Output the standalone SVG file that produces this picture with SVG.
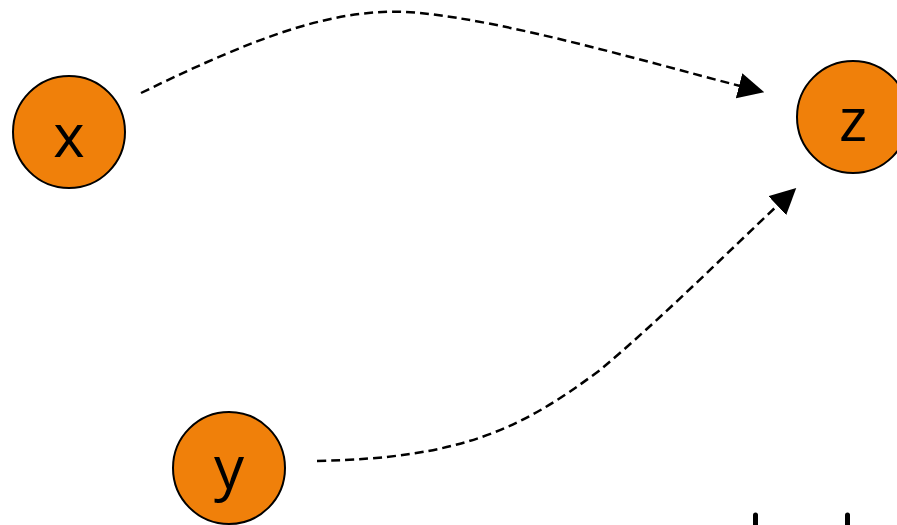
<svg xmlns="http://www.w3.org/2000/svg" width="897" height="525" viewBox="0 0 897 525">
  <style>
    .node circle { fill: #F0800A; stroke: #000; stroke-width: 2; }
    .node text { font-family: "Open Sans", "Noto Sans", sans-serif; font-size: 60px; fill: #000; text-anchor: middle; }
    .edge { fill: none; stroke: #000; stroke-width: 2.5; stroke-dasharray: 9 5; }
  </style>
  <defs>
    <marker id="arrow" markerUnits="userSpaceOnUse" markerWidth="26" markerHeight="26" viewBox="0 0 26 26" refX="1" refY="13" orient="auto">
      <path d="M0,0 L26,13 L0,26 z" fill="#000"/>
    </marker>
  </defs>
  <g id="connectors">
    <path class="edge" d="M141,93 C260,35 340,5 420,13 C510,22 640,60 740,86" marker-end="url(#arrow)"/>
    <path class="edge" d="M317,461 C460,458 520,430 600,370 C660,320 730,250 778,205" marker-end="url(#arrow)"/>
  </g>
  <g id="node-x" class="node">
    <circle cx="69" cy="132" r="56"/>
    <text x="69" y="157">x</text>
  </g>
  <g id="node-z" class="node">
    <circle cx="853" cy="117" r="56"/>
    <text x="853" y="141">z</text>
  </g>
  <g id="node-y" class="node">
    <circle cx="229" cy="468" r="56"/>
    <text x="229" y="489">y</text>
  </g>
  <g id="marks" stroke="#000" stroke-width="5" stroke-linecap="round">
    <line x1="755.5" y1="515" x2="755.5" y2="530"/>
    <line x1="847.5" y1="515" x2="847.5" y2="530"/>
  </g>
</svg>
